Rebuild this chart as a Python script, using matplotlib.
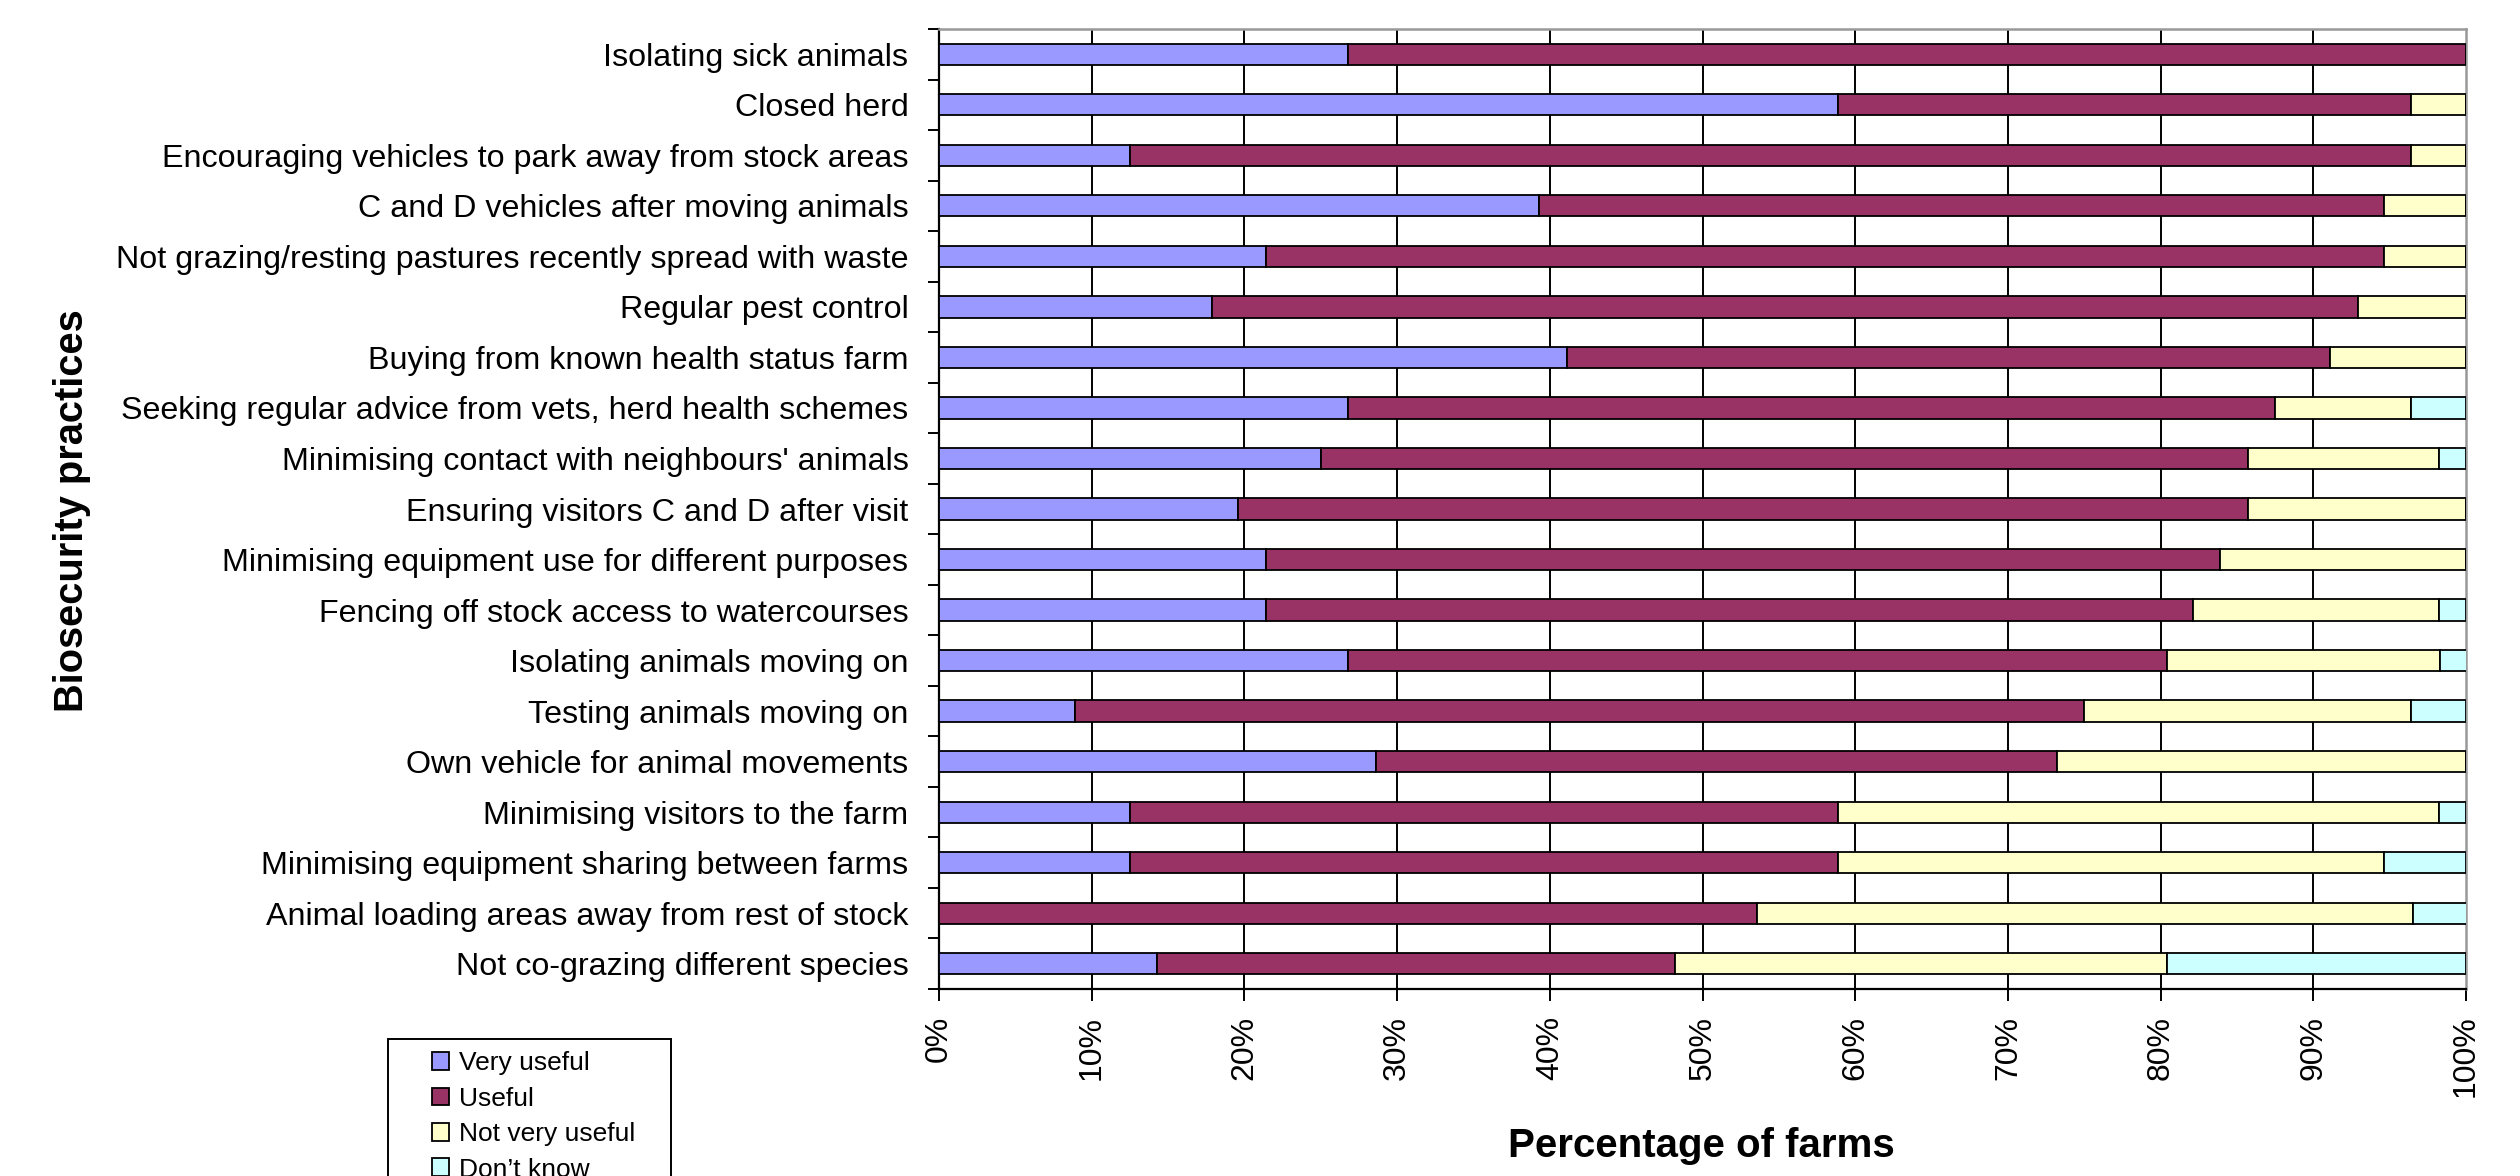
import numpy as np
import matplotlib
matplotlib.use("Agg")
import matplotlib.pyplot as plt
from matplotlib.patches import Rectangle

plt.rcParams['font.family'] = ['Liberation Sans', 'DejaVu Sans']

practices = [
    'Isolating sick animals',
    'Closed herd',
    'Encouraging vehicles to park away from stock areas',
    'C and D vehicles after moving animals',
    'Not grazing/resting pastures recently spread with waste',
    'Regular pest control',
    'Buying from known health status farm',
    'Seeking regular advice from vets, herd health schemes',
    "Minimising contact with neighbours' animals",
    'Ensuring visitors C and D after visit',
    'Minimising equipment use for different purposes',
    'Fencing off stock access to watercourses',
    'Isolating animals moving on',
    'Testing animals moving on',
    'Own vehicle for animal movements',
    'Minimising visitors to the farm',
    'Minimising equipment sharing between farms',
    'Animal loading areas away from rest of stock',
    'Not co-grazing different species',
]

# percentage of farms per response
very_useful = [26.8, 58.9, 12.5, 39.3, 21.4, 17.9, 41.1, 26.8, 25.0, 19.6,
               21.4, 21.4, 26.8, 8.9, 28.6, 12.5, 12.5, 0.0, 14.3]
useful = [73.2, 37.5, 83.9, 55.3, 73.2, 75.0, 50.0, 60.7, 60.7, 66.1,
          62.5, 60.7, 53.6, 66.1, 44.6, 46.4, 46.4, 53.6, 33.9]
not_very_useful = [0.0, 3.6, 3.6, 5.4, 5.4, 7.1, 8.9, 8.9, 12.5, 14.3,
                   16.1, 16.1, 17.9, 21.4, 26.8, 39.3, 35.7, 42.9, 32.2]
dont_know = [0.0, 0.0, 0.0, 0.0, 0.0, 0.0, 0.0, 3.6, 1.8, 0.0,
             0.0, 1.8, 1.8, 3.6, 0.0, 1.8, 5.4, 3.6, 19.6]

series = [
    ('Very useful', very_useful, '#9999FF'),
    ('Useful', useful, '#993366'),
    ('Not very useful', not_very_useful, '#FFFFCC'),
    ('Don\u2019t know', dont_know, '#CCFFFF'),
]

W, H = 2520, 1176
fig = plt.figure(figsize=(W / 100, H / 100), dpi=100)
ax = fig.add_axes([939 / W, 1 - 989 / H, (2466 - 939) / W, (989 - 29) / H])

y = np.arange(len(practices))
left = np.zeros(len(practices))
handles = []
for name, vals, col in series:
    vals = np.array(vals)
    b = ax.barh(y, vals, left=left, height=0.42, color=col,
                edgecolor='black', linewidth=1.3, label=name, zorder=3)
    handles.append(b)
    left += vals

ax.set_xlim(0, 100)
ax.set_ylim(len(practices) - 0.5, -0.5)

ax.set_xticks(np.arange(0, 101, 10))
ax.set_xticklabels(['{}%'.format(v) for v in range(0, 101, 10)],
                   rotation=90, fontsize=23)
ax.tick_params(axis='x', direction='out', length=8.6, width=1.4, pad=10.5)

ax.set_yticks(y)
ax.set_yticklabels(practices, fontsize=23.2)
ax.tick_params(axis='y', which='major', length=0, pad=22)
ax.set_yticks(np.arange(-0.5, len(practices)), minor=True)
ax.tick_params(axis='y', which='minor', direction='out', length=8, width=1.4)

for gx in range(10, 100, 10):
    ax.axvline(gx, color='black', linewidth=1.4, zorder=1)

for side in ['left', 'bottom']:
    ax.spines[side].set_linewidth(1.6)
    ax.spines[side].set_color('black')
for side in ['top', 'right']:
    ax.spines[side].set_linewidth(1.8)
    ax.spines[side].set_color('#999999')

fig.text(72 / W, 1 - 511 / H, 'Biosecurity practices', rotation=90,
         fontsize=28.7, fontweight='bold', ha='center', va='center')
fig.text(1701 / W, 1 - 1146 / H, 'Percentage of farms',
         fontsize=29, fontweight='bold', ha='center', va='center')

# legend box runs off the bottom edge
fig.patches.append(Rectangle((388 / W, -0.05), (671 - 388) / W, 0.05 + 1 - 1039 / H,
                             transform=fig.transFigure, facecolor='white',
                             edgecolor='black', linewidth=1.4))
fig.legend(handles=handles, loc='upper left', bbox_to_anchor=(414 / W, 1 - 1033 / H),
           frameon=False, fontsize=19, handlelength=0.62, handleheight=0.65,
           handletextpad=0.38, labelspacing=0.43, borderpad=0.2)

fig.savefig('out.png', dpi=100)
